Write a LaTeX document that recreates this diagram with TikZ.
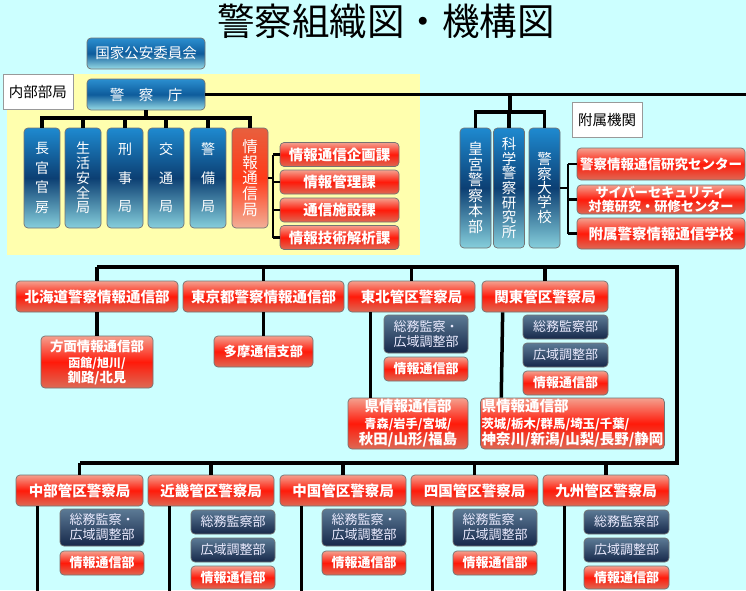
\documentclass[tikz,border=0pt]{standalone}
\usepackage{fontspec}
\setmainfont{Noto Sans CJK JP}
\usepackage{tikz}
\usetikzlibrary{positioning,calc}
\definecolor{bgcyan}{HTML}{CCFFFF}
\definecolor{bgyellow}{HTML}{FFFFAE}
\definecolor{blueTop}{HTML}{1E8AD0}
\definecolor{blueMid}{HTML}{0C3F73}
\definecolor{blueBot}{HTML}{86CFDC}
\definecolor{agTop}{HTML}{2B8FD0}
\definecolor{agMid}{HTML}{0E5C9C}
\definecolor{agBot}{HTML}{98DCE6}
\definecolor{redTop}{HTML}{F4A08E}
\definecolor{redMid}{HTML}{FF1A0A}
\definecolor{redBot}{HTML}{DD6A55}
\definecolor{infTop}{HTML}{E8603E}
\definecolor{infMid}{HTML}{FF3A18}
\definecolor{infBot}{HTML}{F2B098}
\definecolor{navyTop}{HTML}{5C7A95}
\definecolor{navyBot}{HTML}{16284A}
\tikzset{
  every picture/.style = {
    x = 1pt,
    y = -1pt,
  }
  ,
  wire/.style = {
    line width = 3.5pt
  }
  ,
  thin wire/.style = {
    line width = 2.5pt
  }
  ,
  unit/.style = {
    rectangle,
    rounded corners = 4pt,
    draw = black!55,
    line width = 0.7pt,
    inner sep = 1pt,
    align = center
  }
  , % agency and commission
  agency/.style = {
    unit,
    top color = agTop, bottom color = agBot, middle color = agMid,
    text = white,
    minimum width = 118pt,
    minimum height = 31pt,
    font = \fontsize{14.5}{17}\selectfont
  }
  , % upright bureau boxes, #1 = line step
  bureau/.style = {
    unit,
    top color = blueTop, bottom color = blueBot, middle color = blueMid,
    text = white,
    minimum width = 36pt,
    minimum height = 100pt,
    font = \fontsize{14}{#1}\selectfont
  }
  ,
  redbox/.style = {
    unit,
    top color = redTop, bottom color = redBot, middle color = redMid,
    text = white,
    font = \bfseries\fontsize{14.5}{16}\selectfont
  }
  ,
  smallred/.style = {
    redbox,
    minimum width = 84pt,
    minimum height = 24pt,
    font = \bfseries\fontsize{13}{15}\selectfont
  }
  ,
  navybox/.style = {
    unit,
    top color = navyTop, bottom color = navyBot,
    text = white!92!blue,
    minimum width = 84pt,
    minimum height = 24pt,
    font = \fontsize{13}{15}\selectfont
  }
  , % white captions
  caption/.style = {
    rectangle,
    draw = black!40,
    fill = white,
    minimum width = 70pt,
    minimum height = 35pt,
    font = \fontsize{14.5}{17}\selectfont
  }
}

\begin{document}
\begin{tikzpicture}
\fill[bgcyan] (0,0) rectangle (746,590);
\useasboundingbox (0,0) rectangle (746,590);
\fill[bgyellow] (7,74) rectangle (420,255);
\node (ttl) at (386,21) {\fontsize{37.5}{40}\selectfont 警察組織図・機構図};

% national level
\node[agency] (psc) at (146,53.5) {国家公安委員会};
\node[caption] (inner) at (38,91.5) {内部部局};
\node[agency] (npa) at (146,94.5) {警\hspace{1em}察\hspace{1em}庁};
\node[bureau=19.5] (b1) at (42,178) {長\\官\\官\\房};
\node[bureau=14.7] (b2) at (83,178) {生\\活\\安\\全\\局};
\node[bureau=28.5] (b3) at (125,178) {刑\\事\\局};
\node[bureau=28.5] (b4) at (166,178) {交\\通\\局};
\node[bureau=28.5] (b5) at (208,178) {警\\備\\局};
\node[bureau=15.8, top color=infTop, bottom color=infBot, middle color=infMid,
  font=\fontsize{15.5}{15.8}\selectfont] (b6) at (250,178) {情\\報\\通\\信\\局};
\node[redbox, minimum width=119pt, minimum height=24pt] (s1) at (339.5,154.5) {情報通信企画課};
\node[redbox, minimum width=119pt, minimum height=24pt] (s2) at (339.5,182) {情報管理課};
\node[redbox, minimum width=119pt, minimum height=24pt] (s3) at (339.5,210) {通信施設課};
\node[redbox, minimum width=119pt, minimum height=24pt] (s4) at (339.5,237.5) {情報技術解析課};

% attached organizations
\node[caption] (att) at (607,119.5) {附属機関};
\node[bureau=15.5, minimum width=31pt, minimum height=120pt,
  font=\fontsize{15}{15.5}\selectfont] (kog) at (475.5,188) {皇\\宮\\警\\察\\本\\部};
\node[bureau=14.6, minimum width=31pt, minimum height=120pt,
  font=\fontsize{14.5}{14.6}\selectfont] (kak) at (509,188) {科\\学\\警\\察\\研\\究\\所};
\node[bureau=14.4, minimum width=31pt, minimum height=120pt,
  font=\fontsize{14.5}{14.4}\selectfont] (dai) at (544.5,188) {警\\察\\大\\学\\校};
\node[redbox, minimum width=168pt, minimum height=32pt,
  font=\bfseries\fontsize{13.5}{15}\selectfont] (f1) at (661,164) {警察情報通信研究センター};
\node[redbox, minimum width=168pt, minimum height=29pt,
  font=\bfseries\fontsize{13.2}{14}\selectfont] (f2) at (661,199.5) {サイバーセキュリティ\\対策研究・研修センター};
\node[redbox, minimum width=168pt, minimum height=31pt] (f3) at (661,233.5) {附属警察情報通信学校};

% regional level, first row
\node[redbox, minimum width=162pt, minimum height=31pt] (hok) at (97,296.5) {北海道警察情報通信部};
\node[redbox, minimum width=161pt, minimum height=31pt] (tok) at (263.5,296.5) {東京都警察情報通信部};
\node[redbox, minimum width=127pt, minimum height=31pt] (toh) at (411.5,296.5) {東北管区警察局};
\node[redbox, minimum width=126pt, minimum height=31pt] (kan) at (545,296.5) {関東管区警察局};
\node[redbox, minimum width=112pt, minimum height=52pt, font=\bfseries\fontsize{13.4}{15}\selectfont] (hmn) at (97,362)
  {方面情報通信部\\[1pt]\fontsize{12}{14}\selectfont 函館/旭川/\\釧路/北見};
\node[redbox, minimum width=99pt, minimum height=31pt, font=\bfseries\fontsize{13.2}{15}\selectfont] (tama) at (263.5,351.5) {多摩通信支部};
\node[navybox, minimum height=38pt] (tohN) at (426,334) {総務監察・\\広域調整部};
\node[smallred] (tohR) at (426,369) {情報通信部};
\node[redbox, minimum width=120pt, minimum height=51pt] (tohK) at (408,423.5)
  {県情報通信部\\[1pt]\fontsize{12.2}{14}\selectfont 青森/岩手/宮城/\\秋田/山形/福島};
\node[navybox, minimum width=85pt] (kanN1) at (565.5,327) {総務監察部};
\node[navybox, minimum width=85pt] (kanN2) at (565.5,355) {広域調整部};
\node[smallred, minimum width=85pt] (kanR) at (565.5,383) {情報通信部};
\node[redbox, minimum width=181pt, minimum height=51pt, align=left] (kanK) at (572.5,423.5)
  {県情報通信部\\[1pt]\fontsize{12.4}{14}\selectfont 茨城/栃木/群馬/埼玉/千葉/\\神奈川/新潟/山梨/長野/静岡};

% regional level, second row
\node[redbox, minimum width=127pt, minimum height=31pt] (chb) at (79.5,490.5) {中部管区警察局};
\node[redbox, minimum width=126pt, minimum height=31pt] (kin) at (211,490.5) {近畿管区警察局};
\node[redbox, minimum width=126pt, minimum height=31pt] (cgk) at (343,490.5) {中国管区警察局};
\node[redbox, minimum width=127pt, minimum height=31pt] (shk) at (474.5,490.5) {四国管区警察局};
\node[redbox, minimum width=126pt, minimum height=31pt] (kyu) at (606,490.5) {九州管区警察局};
\node[navybox, minimum height=37pt] (chbN) at (102,527.5) {総務監察・\\広域調整部};
\node[smallred] (chbR) at (102,563) {情報通信部};
\node[navybox] (kinN1) at (233,522) {総務監察部};
\node[navybox] (kinN2) at (233,550) {広域調整部};
\node[smallred, minimum height=23pt] (kinR) at (233,577.5) {情報通信部};
\node[navybox, minimum height=37pt] (cgkN) at (364,527.5) {総務監察・\\広域調整部};
\node[smallred] (cgkR) at (364,563) {情報通信部};
\node[navybox, minimum height=37pt] (shkN) at (495,527.5) {総務監察・\\広域調整部};
\node[smallred] (shkR) at (495,563) {情報通信部};
\node[navybox, minimum width=85pt] (kyuN1) at (626.5,522) {総務監察部};
\node[navybox, minimum width=85pt] (kyuN2) at (626.5,550) {広域調整部};
\node[smallred, minimum width=85pt, minimum height=23pt] (kyuR) at (626.5,577.5) {情報通信部};

% connectors
\coordinate (rim) at (750,94.5);
\coordinate (bus) at (146,118);
\coordinate (br1) at (273,180);
\coordinate (fz) at (510,112);
\coordinate (br2) at (568,188);
\coordinate (rt) at (677,267);
\coordinate (rb) at (677,463);
\coordinate (floor) at (0,600);

\draw[wire] (npa) -- (rim);
\draw[wire] (npa) -- (bus);
\foreach \n in {b1,b2,b3,b4,b5,b6}
  \draw[wire] (bus) -| (\n.north);
\draw[thin wire] (b6) -- (b6 -| br1);
\draw[thin wire] (br1 |- s1) -- (br1 |- s4);
\foreach \n in {s1,s2,s3,s4}
  \draw[thin wire] (br1 |- \n) -- (\n);

\draw[wire] (fz |- rim) -- (fz);
\foreach \n in {kog,kak,dai}
  \draw[wire] (fz) -| (\n.north);
\draw[thin wire] (dai) -- (dai -| br2);
\draw[thin wire] (br2 |- f1) -- (br2 |- f3);
\foreach \n in {f1,f2,f3}
  \draw[thin wire] (br2 |- \n) -- (\n);

\draw[wire] (hok.north |- rt) -- (rt) -- (rb) -- (chb.north |- rb);
\foreach \n in {hok,tok,toh,kan}
  \draw[wire] (\n.north |- rt) -- (\n.north);
\foreach \n in {chb,kin,cgk,shk,kyu}
  \draw[wire] (\n.north |- rb) -- (\n.north);
\draw[wire] (hok) -- (hmn);
\draw[wire] (tok) -- (tama);
\draw[wire] ($(toh.south west)+(23,0)$) -- ($(tohK.north west)+(23,0)$);
\draw[wire] ($(kan.south west)+(21,0)$) -- ($(kanK.north west)+(21,0)$);
\foreach \n in {chb,kin,cgk,shk,kyu}
  \draw[wire] ($(\n.south west)+(22,0)$) coordinate (d) -- (d |- floor);
\end{tikzpicture}
\end{document}
